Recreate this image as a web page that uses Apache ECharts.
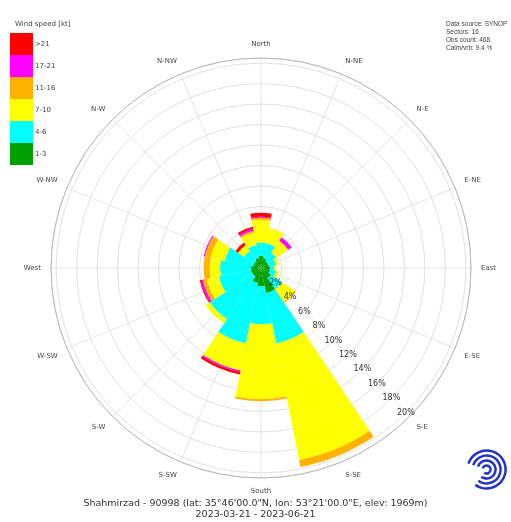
<!DOCTYPE html>
<html>
<head>
<meta charset="utf-8">
<script src="https://cdn.jsdelivr.net/npm/echarts@6/dist/echarts.min.js"></script>
<style>
  html, body { margin: 0; padding: 0; background: #fff; }
  #chart { width: 511px; height: 522px; }
</style>
</head>
<body>
<div id="chart"></div>
<script>
// wind directions (16 sectors), clockwise from North
const dirs = ['North', 'N-NE', 'N-E', 'E-NE', 'East', 'E-SE', 'S-E', 'S-SE',
              'South', 'S-SW', 'S-W', 'W-SW', 'West', 'W-NW', 'N-W', 'N-NW']

// frequency [%] per speed class
const speed1_3   = [1.2, 1.0, 0.8, 0.8, 0.9, 0.9, 1.2, 2.5, 1.8, 1.5, 1.0, 1.0, 1.0, 0.8, 0.8, 1.0]
const speed4_6   = [1.3, 1.5, 1.0, 0.7, 0.4, 0.6, 1.3, 5.0, 3.7, 6.0, 5.0, 3.2, 3.0, 2.8, 1.2, 1.3]
const speed7_10  = [2.2, 1.5, 1.4, 0.3, 0.2, 0.3, 1.5, 11.6, 7.3, 2.7, 0.5, 1.2, 1.0, 1.4, 0.7, 1.2]
const speed11_16 = [0.2, 0, 0, 0, 0, 0, 0.1, 0.7, 0.2, 0, 0, 0.4, 0.6, 0.6, 0, 0.2]
const speed17_21 = [0.1, 0, 0.4, 0, 0, 0, 0, 0, 0, 0.15, 0, 0.2, 0, 0.1, 0, 0.2]
const speedOver21 = [0.4, 0, 0, 0, 0, 0, 0, 0, 0, 0.25, 0, 0.1, 0, 0, 0.3, 0.2]

const classNames = ['1-3', '4-6', '7-10', '11-16', '17-21', '>21']
const classColors = ['#00a000', '#00ffff', '#ffff00', '#ffb300', '#ff00ff', '#ff0000']
const classData = [speed1_3, speed4_6, speed7_10, speed11_16, speed17_21, speedOver21]

// radius axis
const radiusMax = 20.5
const radiusStep = 2

const infoLines = ['Data source: SYNOP', 'Sectors: 16', 'Obs count: 468', 'Calm/vrb: 9.4 %']

const chart = echarts.init(document.getElementById('chart'), null, { renderer: 'canvas' })

const center = [261, 268]
const radius = 210

chart.setOption({
    animation: false,
    backgroundColor: '#fff',
    textStyle: { fontFamily: 'DejaVu Sans' },
    title: [{
        text: 'Shahmirzad - 90998 (lat: 35°46\'00.0"N, lon: 53°21\'00.0"E, elev: 1969m)',
        subtext: '2023-03-21 - 2023-06-21',
        left: 'center',
        top: 494,
        itemGap: 1,
        textStyle: { fontSize: 9.5, fontWeight: 'normal', color: '#333' },
        subtextStyle: { fontSize: 9.5, color: '#333' }
    }, {
        text: 'Wind speed [kt]',
        left: 10,
        top: 16,
        textStyle: { fontSize: 7, fontWeight: 'normal', color: '#444' }
    }, {
        text: infoLines.join('\n'),
        left: 441,
        top: 15,
        textStyle: { fontFamily: 'Liberation Sans', fontSize: 6.5, fontWeight: 'normal', color: '#444', lineHeight: 8 }
    }],
    legend: {
        orient: 'vertical',
        left: 10,
        top: 33,
        itemWidth: 23,
        itemHeight: 22,
        itemGap: 0,
        icon: 'rect',
        padding: 0,
        data: classNames.slice().reverse(),
        textStyle: { fontSize: 7, color: '#444', padding: [0, 0, 0, -3] }
    },
    polar: [
        { center: center, radius: radius },
        { center: center, radius: radius },
        { center: center, radius: radius }
    ],
    angleAxis: [{
        polarIndex: 0,
        type: 'category',
        data: dirs,
        startAngle: 90 + 11.25,
        clockwise: true,
        axisLine: { lineStyle: { color: '#b8b8b8', width: 1 } },
        axisTick: { show: false },
        axisLabel: { fontSize: 7, color: '#444', margin: 10 },
        splitLine: { show: false }
    }, {
        polarIndex: 1,
        type: 'value',
        min: 0,
        max: 360,
        interval: 22.5,
        startAngle: -45,
        clockwise: true,
        axisLine: { show: false },
        axisTick: { show: false },
        axisLabel: { show: false },
        splitLine: { show: true, lineStyle: { color: '#e6e6e6', width: 1 } }
    }, {
        polarIndex: 2,
        type: 'value',
        min: 0,
        max: 360,
        startAngle: -45,
        show: false
    }],
    radiusAxis: [{
        polarIndex: 0,
        min: 0,
        max: radiusMax,
        interval: radiusStep,
        axisLine: { show: false },
        axisTick: { show: false },
        axisLabel: { show: false },
        splitLine: { show: true, lineStyle: { color: '#e2e2e2', width: 1 } }
    }, {
        polarIndex: 1,
        min: 0,
        max: radiusMax,
        interval: radiusStep,
        show: false
    }, {
        polarIndex: 2,
        min: 0,
        max: radiusMax,
        interval: radiusStep,
        z: 10,
        axisLine: { show: false },
        axisTick: { show: false },
        splitLine: { show: false },
        axisLabel: {
            showMinLabel: false,
            showMaxLabel: false,
            fontSize: 8,
            color: '#333',
            margin: 0,
            align: 'center',
            verticalAlign: 'middle',
            formatter: v => v + '%'
        }
    }],
    series: classNames.map((name, i) => ({
        name: name,
        type: 'bar',
        coordinateSystem: 'polar',
        polarIndex: 0,
        stack: 'wind',
        barCategoryGap: '0%',
        itemStyle: { color: classColors[i] },
        data: classData[i]
    })),
    graphic: [{
        type: 'group',
        left: 466,
        top: 448,
        children: [19, 14, 9, 4].map(r => ({
            type: 'arc',
            shape: { cx: 20, cy: 20, r: r, startAngle: Math.PI * 1.1, endAngle: Math.PI * 2.7 },
            style: { stroke: '#2233cc', lineWidth: 2.5, fill: null }
        }))
    }]
})
</script>
</body>
</html>
